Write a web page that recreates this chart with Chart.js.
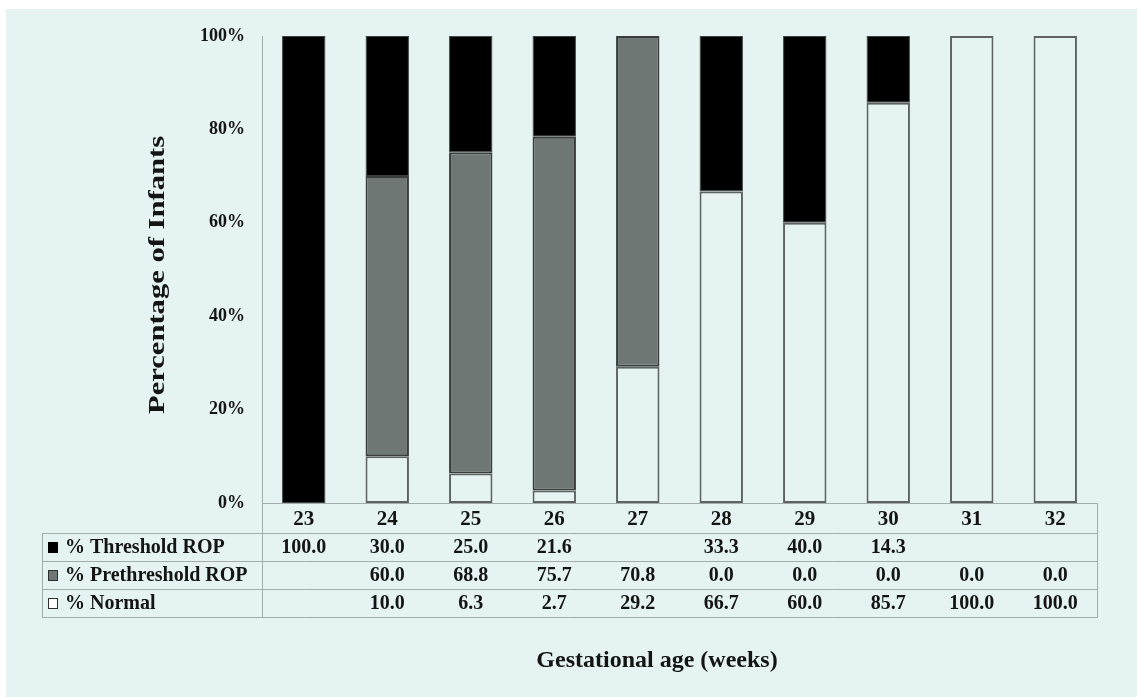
<!DOCTYPE html>
<html><head><meta charset="utf-8">
<script src="https://cdn.jsdelivr.net/npm/chart.js@4.4.0/dist/chart.umd.min.js"></script>
<style>html,body{margin:0;padding:0;background:#fff;}#wrap{width:1137px;height:697px;}</style>
</head><body><div id="wrap"><canvas id="c" width="1137" height="697"></canvas></div>
<script>
const categories = ['23','24','25','26','27','28','29','30','31','32'];
const thresholdROP = [100.0, 30.0, 25.0, 21.6, null, 33.3, 40.0, 14.3, null, null];
const prethresholdROP = [null, 60.0, 68.8, 75.7, 70.8, 0.0, 0.0, 0.0, 0.0, 0.0];
const normalPct = [null, 10.0, 6.3, 2.7, 29.2, 66.7, 60.0, 85.7, 100.0, 100.0];
const yTickValues = [0, 20, 40, 60, 80, 100];
const yTitle = 'Percentage of Infants';
const xTitle = 'Gestational age (weeks)';

const BG = '#e5f3f3';
const LINE = '#a3acac';
const TXT = '#141414';
const FONT = '"Liberation Serif", "Times New Roman", serif';

const tableRows = [
  {label: '% Threshold ROP', data: thresholdROP, fill: '#000000', stroke: '#000000'},
  {label: '% Prethreshold ROP', data: prethresholdROP, fill: '#6f7774', stroke: '#2e302f'},
  {label: '% Normal', data: normalPct, fill: '#ffffff', stroke: '#2e302f'}
];

const decor = {
  id: 'decor',
  beforeDraw(chart) {
    const ctx = chart.ctx;
    ctx.save();
    ctx.fillStyle = '#ffffff';
    ctx.fillRect(0, 0, chart.width, chart.height);
    ctx.fillStyle = BG;
    ctx.fillRect(6, 9, chart.width - 6, chart.height - 9);
    ctx.restore();
  },
  afterDraw(chart) {
    const ctx = chart.ctx;
    const area = chart.chartArea;
    const xs = chart.scales.x;
    const headerH = 30, rowH = 28;
    const tableLeft = 42;
    const top0 = area.bottom;
    const r1 = top0 + headerH;
    ctx.save();
    ctx.strokeStyle = LINE;
    ctx.lineWidth = 1;
    ctx.beginPath();
    for (let i = 0; i <= tableRows.length; i++) {
      const y = Math.round(r1 + i * rowH) + 0.5;
      ctx.moveTo(tableLeft, y); ctx.lineTo(area.right, y);
    }
    const bottom = r1 + tableRows.length * rowH;
    ctx.moveTo(tableLeft + 0.5, r1); ctx.lineTo(tableLeft + 0.5, bottom + 0.5);
    ctx.moveTo(Math.round(area.left) + 0.5, top0); ctx.lineTo(Math.round(area.left) + 0.5, bottom + 0.5);
    ctx.moveTo(Math.round(area.right) + 0.5, top0); ctx.lineTo(Math.round(area.right) + 0.5, bottom + 0.5);
    ctx.stroke();

    ctx.fillStyle = TXT;
    ctx.textBaseline = 'middle';
    ctx.font = 'bold 20px ' + FONT;
    tableRows.forEach((row, r) => {
      const cy = r1 + r * rowH + rowH / 2 + 1;
      ctx.fillStyle = row.fill;
      ctx.fillRect(48, cy - 6, 10, 11);
      ctx.strokeStyle = row.stroke;
      ctx.lineWidth = 1;
      ctx.strokeRect(48.5, cy - 5.5, 9, 10);
      ctx.fillStyle = TXT;
      ctx.textAlign = 'left';
      ctx.fillText(row.label, 65, cy);
      ctx.textAlign = 'center';
      row.data.forEach((v, i) => {
        if (v === null || v === undefined) return;
        ctx.fillText(v.toFixed(1), xs.getPixelForValue(i), cy);
      });
    });

    ctx.font = 'bold 24px ' + FONT;
    ctx.textAlign = 'center';
    ctx.fillText(xTitle, 657, 661);

    ctx.translate(158, 275);
    ctx.rotate(-Math.PI / 2);
    ctx.scale(1.33, 1);
    ctx.font = 'bold 23px ' + FONT;
    ctx.textAlign = 'center';
    ctx.fillText(yTitle, 0, 0);
    ctx.restore();
  }
};

new Chart(document.getElementById('c'), {
  type: 'bar',
  data: {
    labels: categories,
    datasets: [
      {label: '% Normal', data: normalPct, backgroundColor: BG, borderColor: '#5e6262', borderWidth: 2, borderSkipped: false},
      {label: '% Prethreshold ROP', data: prethresholdROP, backgroundColor: '#6f7774', borderColor: '#3a3d3c', borderWidth: 2, borderSkipped: false},
      {label: '% Threshold ROP', data: thresholdROP, backgroundColor: '#000000', borderColor: '#3f4242', borderWidth: 1, borderSkipped: false}
    ]
  },
  options: {
    responsive: false,
    animation: false,
    devicePixelRatio: 1,
    categoryPercentage: 1,
    barPercentage: 0.52,
    layout: {padding: {left: 0, right: 40, top: 36, bottom: 0}},
    plugins: {legend: {display: false}, title: {display: false}, tooltip: {enabled: false}},
    scales: {
      x: {
        stacked: true,
        offset: true,
        grid: {display: false, drawTicks: false},
        border: {display: true, color: LINE, width: 1},
        ticks: {color: TXT, font: {family: FONT, size: 21, weight: 'bold'}, padding: 4},
        afterFit: s => { s.height = 194; }
      },
      y: {
        stacked: true,
        min: 0, max: 100,
        afterBuildTicks: s => { s.ticks = yTickValues.map(v => ({value: v})); },
        grid: {display: false, drawTicks: false},
        border: {display: true, color: LINE, width: 1},
        ticks: {color: TXT, font: {family: FONT, size: 18, weight: 'bold'}, padding: 17, callback: v => v + '%'},
        afterFit: s => { s.width = 262; }
      }
    }
  },
  plugins: [decor]
});
</script></body></html>
